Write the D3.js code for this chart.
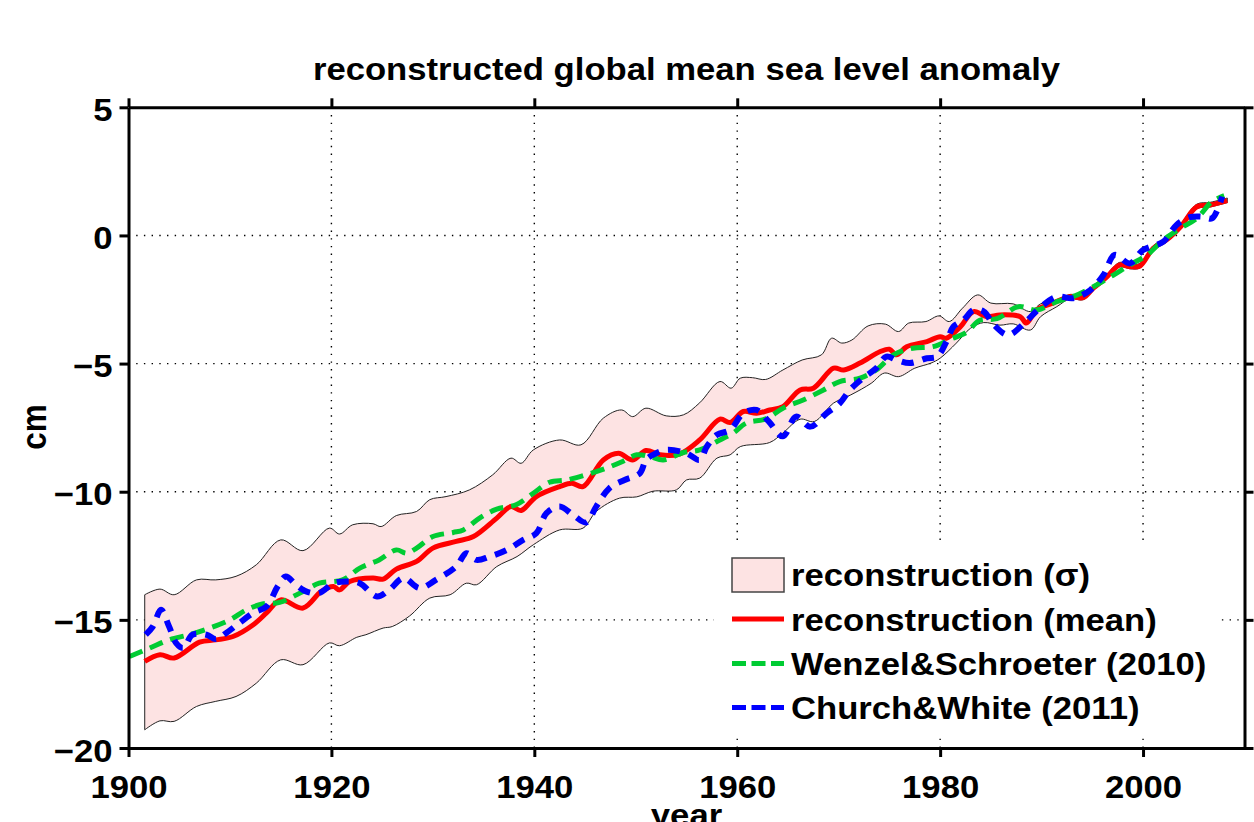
<!DOCTYPE html>
<html>
<head>
<meta charset="utf-8">
<script src="https://cdn.jsdelivr.net/npm/d3@7"></script>
<style>
  body { margin: 0; background: #fff; }
  text { font-family: "Liberation Sans", Arial, Helvetica, sans-serif; font-weight: bold; }
</style>
</head>
<body>
<script>
// reconstruction mean (red)
var meanYear = [1901.6,1903.1,1904.5,1907.0,1908.6,1910.3,1912.3,1913.6,1915.0,1917.2,1919.0,1920.2,1920.8,1921.8,1924.1,1925.1,1926.4,1928.4,1930.0,1932.3,1934.0,1936.3,1937.7,1938.7,1940.2,1942.5,1943.7,1944.8,1946.8,1948.3,1949.7,1951.0,1952.4,1954.3,1956.3,1958.3,1959.3,1960.6,1961.9,1963.2,1964.5,1966.2,1967.5,1969.5,1970.5,1972.1,1974.1,1975.0,1975.7,1976.7,1978.7,1980.0,1980.6,1982.0,1983.3,1984.6,1985.9,1987.9,1988.5,1989.5,1991.1,1992.8,1994.1,1995.1,1996.3,1997.7,1998.7,1999.7,2001.0,2002.3,2003.7,2005.3,2006.6,2008.3];
var meanVal = [-16.62,-16.36,-16.49,-15.87,-15.78,-15.65,-15.19,-14.73,-14.22,-14.54,-13.89,-13.70,-13.83,-13.50,-13.37,-13.41,-13.02,-12.72,-12.20,-11.94,-11.75,-11.03,-10.58,-10.73,-10.19,-9.80,-9.67,-9.80,-8.76,-8.50,-8.76,-8.39,-8.56,-8.53,-7.98,-7.17,-7.30,-6.87,-6.94,-6.81,-6.68,-6.03,-5.96,-5.18,-5.25,-4.98,-4.53,-4.44,-4.66,-4.34,-4.14,-3.95,-4.01,-3.56,-2.97,-3.17,-3.10,-3.17,-3.42,-2.91,-2.64,-2.39,-2.43,-2.06,-1.67,-1.15,-1.22,-1.19,-0.50,-0.18,0.34,1.12,1.19,1.36];

// reconstruction sigma band
var upperYear = [1901.6,1903.1,1904.5,1906.7,1908.6,1910.6,1912.6,1915.0,1917.2,1919.8,1920.8,1922.1,1924.1,1924.9,1926.4,1928.4,1929.7,1931.3,1933.6,1935.9,1937.7,1938.7,1939.9,1942.5,1944.6,1946.8,1948.6,1949.7,1951.0,1953.0,1954.7,1956.3,1958.3,1959.4,1960.3,1961.5,1962.8,1964.5,1966.4,1968.3,1969.3,1970.3,1971.3,1972.9,1974.6,1975.9,1976.9,1978.6,1979.9,1980.9,1982.2,1983.7,1985.0,1987.2,1988.9,1989.9,1991.5,1992.8,1994.1,1995.1,1996.3,1997.7,1998.7,1999.7,2001.0,2002.3,2003.7,2005.3,2006.6,2008.3];
var upperVal = [-14.02,-13.80,-14.02,-13.44,-13.44,-13.30,-12.85,-11.88,-12.30,-11.42,-11.65,-11.29,-11.25,-11.36,-10.93,-10.77,-10.31,-10.19,-9.93,-9.34,-8.69,-8.89,-8.37,-7.98,-8.17,-7.13,-6.81,-7.07,-6.74,-7.04,-7.00,-6.53,-5.70,-5.96,-5.57,-5.55,-5.62,-5.25,-4.86,-4.66,-4.01,-4.20,-4.08,-3.53,-3.46,-3.75,-3.42,-3.36,-3.14,-3.36,-2.84,-2.32,-2.64,-2.67,-2.97,-2.67,-2.52,-2.30,-2.33,-1.96,-1.57,-1.05,-1.12,-1.09,-0.40,-0.08,0.44,1.22,1.29,1.46];
var lowerYear = [1901.6,1903.1,1904.5,1906.7,1908.6,1910.6,1912.6,1915.0,1917.2,1919.8,1920.8,1922.5,1923.4,1925.1,1926.0,1927.7,1929.7,1931.7,1933.3,1934.3,1936.3,1938.3,1939.9,1942.5,1944.8,1946.1,1948.4,1950.1,1951.7,1954.0,1955.0,1956.3,1958.0,1959.3,1960.3,1963.2,1964.5,1966.2,1967.6,1969.5,1971.2,1973.2,1974.5,1975.9,1977.5,1979.1,1980.0,1981.6,1983.0,1984.3,1985.9,1987.2,1988.9,1989.9,1991.5,1992.8,1994.1,1995.1,1996.3,1997.7,1998.7,1999.7,2001.0,2002.3,2003.7,2005.3,2006.6,2008.3];
var lowerVal = [-19.29,-18.94,-18.96,-18.38,-18.18,-17.99,-17.47,-16.56,-16.75,-15.90,-16.01,-15.68,-15.58,-15.32,-15.26,-14.85,-14.15,-14.02,-13.57,-13.63,-12.92,-12.53,-12.07,-11.49,-11.42,-10.77,-10.25,-10.20,-9.98,-9.93,-9.54,-9.47,-8.69,-8.56,-8.24,-8.08,-7.71,-7.17,-7.26,-6.54,-6.22,-5.77,-5.37,-5.51,-5.18,-4.98,-4.79,-4.20,-3.62,-3.40,-3.50,-3.45,-3.69,-3.17,-2.78,-2.47,-2.51,-2.14,-1.75,-1.23,-1.30,-1.27,-0.58,-0.26,0.26,1.04,1.11,1.28];

// Wenzel & Schroeter (2010)
var wsYear = [1900.1,1902.1,1904.0,1906.0,1908.0,1910.0,1911.6,1913.2,1914.9,1917.2,1918.8,1921.1,1922.8,1924.7,1926.4,1927.4,1928.4,1930.0,1932.0,1933.0,1934.6,1936.3,1938.2,1939.9,1941.5,1943.2,1945.1,1947.1,1948.7,1950.1,1951.4,1952.7,1954.7,1956.3,1958.0,1959.6,1960.9,1962.9,1964.5,1966.5,1968.5,1970.1,1972.1,1973.7,1975.4,1977.3,1979.3,1981.0,1982.6,1983.9,1985.6,1987.7,1989.5,1991.5,1993.1,1995.1,1996.8,1998.7,2000.4,2002.0,2003.7,2005.3,2006.8,2008.0];
var wsVal = [-16.43,-16.10,-15.78,-15.58,-15.32,-15.00,-14.61,-14.38,-14.32,-13.89,-13.57,-13.44,-12.98,-12.66,-12.27,-12.40,-12.20,-11.75,-11.59,-11.49,-11.03,-10.68,-10.51,-10.06,-9.63,-9.54,-9.34,-9.08,-8.82,-8.56,-8.63,-8.76,-8.47,-8.37,-8.04,-7.71,-7.32,-7.15,-6.74,-6.42,-6.03,-5.70,-5.57,-5.25,-4.66,-4.40,-4.34,-4.05,-3.78,-3.31,-3.25,-2.78,-2.91,-2.58,-2.39,-2.00,-1.61,-1.15,-0.76,-0.18,0.28,0.67,1.32,1.55];

// Church & White (2011)
var cwYear = [1901.7,1902.4,1903.2,1904.0,1904.7,1905.4,1906.3,1907.7,1908.6,1909.6,1910.9,1912.3,1913.6,1914.7,1915.5,1916.5,1917.5,1918.8,1920.2,1921.5,1922.8,1924.5,1925.7,1927.1,1928.7,1930.3,1932.3,1933.3,1934.3,1935.6,1937.3,1938.9,1940.2,1941.2,1942.5,1943.8,1945.1,1946.1,1947.4,1948.9,1950.4,1951.0,1951.7,1953.0,1955.0,1956.3,1957.0,1958.0,1959.3,1960.6,1961.9,1963.1,1964.5,1965.8,1967.2,1968.8,1970.1,1971.1,1972.4,1973.7,1974.7,1975.7,1977.0,1978.7,1979.7,1980.7,1981.3,1982.3,1983.3,1984.3,1985.3,1986.7,1988.3,1989.8,1991.5,1993.1,1994.8,1996.1,1997.2,1998.7,2000.0,2002.0,2003.3,2004.6,2005.9,2006.8,2007.8];
var cwVal = [-15.58,-15.26,-14.61,-15.26,-15.91,-16.10,-15.58,-15.58,-15.75,-15.52,-15.13,-14.73,-14.48,-13.70,-13.31,-13.63,-13.89,-13.95,-13.57,-13.50,-13.57,-14.09,-13.83,-13.37,-13.76,-13.44,-12.92,-12.40,-12.66,-12.53,-12.27,-11.88,-11.62,-10.84,-10.58,-10.90,-11.20,-10.58,-9.86,-9.54,-9.28,-8.76,-8.56,-8.37,-8.50,-8.76,-8.24,-7.78,-7.59,-6.94,-6.81,-7.26,-7.84,-7.07,-7.46,-6.94,-6.55,-6.03,-5.57,-5.18,-4.73,-4.86,-4.98,-4.79,-4.73,-4.08,-3.56,-3.30,-2.91,-2.97,-3.49,-3.88,-3.42,-2.84,-2.39,-2.45,-2.13,-1.54,-0.76,-1.09,-0.57,-0.24,0.41,0.71,0.73,0.67,1.51];

var xTicks = [1900, 1920, 1940, 1960, 1980, 2000];
var yTicks = [5, 0, -5, -10, -15, -20];
var xGrid = [1920, 1940, 1960, 1980, 2000];
var yGrid = [0, -5, -10, -15];
var legendLabels = ["reconstruction (\u03c3)", "reconstruction (mean)", "Wenzel&Schroeter (2010)", "Church&White (2011)"];

var W = 1254, H = 822;
var L = 128.5, R = 1244.5, T = 107.3, B = 748;
var SX = 1.1; // the picture's glyphs are a little wider than the font
var FS = 31.5;
var bandFill = "#fde3e3", red = "#ff0000", green = "#00cc33", blue = "#0000ff";

var svg = d3.select("body").append("svg").attr("width", W).attr("height", H);

var x = d3.scaleLinear().domain([1900, 2010]).range([L, R]);
var y = d3.scaleLinear().domain([-20, 5]).range([B, T]);

function pts(xs, vs) { return xs.map(function (d, i) { return [d, vs[i]]; }); }

svg.append("defs").append("clipPath").attr("id", "clip")
	.append("rect").attr("x", L).attr("y", T).attr("width", R - L).attr("height", B - T);

// grid
svg.append("g").selectAll("line").data(xGrid).enter().append("line")
	.attr("x1", function (d) { return x(d); }).attr("x2", function (d) { return x(d); })
	.attr("y1", T).attr("y2", B)
	.attr("stroke", "#000").attr("stroke-width", 1.4).attr("stroke-dasharray", "1.4,6.3");
svg.append("g").selectAll("line").data(yGrid).enter().append("line")
	.attr("y1", function (d) { return y(d); }).attr("y2", function (d) { return y(d); })
	.attr("x1", L).attr("x2", R)
	.attr("stroke", "#000").attr("stroke-width", 1.4).attr("stroke-dasharray", "1.4,6.3");

var line = d3.line()
	.x(function (d) { return x(d[0]); })
	.y(function (d) { return y(d[1]); })
	.curve(d3.curveCatmullRom.alpha(0.5));

var plot = svg.append("g").attr("clip-path", "url(#clip)");

// sigma band
var up = pts(upperYear, upperVal);
var lo = pts(lowerYear, lowerVal).reverse();
var bandPath = line(up) + "L" + line(lo).slice(1) + "Z";
plot.append("path").attr("d", bandPath)
	.attr("fill", bandFill).attr("stroke", "#222").attr("stroke-width", 1);

plot.append("path").attr("d", line(pts(meanYear, meanVal)))
	.attr("fill", "none").attr("stroke", red).attr("stroke-width", 5);
plot.append("path").attr("d", line(pts(wsYear, wsVal)))
	.attr("fill", "none").attr("stroke", green).attr("stroke-width", 5)
	.attr("stroke-dasharray", "14,8");
plot.append("path").attr("d", line(pts(cwYear, cwVal)))
	.attr("fill", "none").attr("stroke", blue).attr("stroke-width", 6)
	.attr("stroke-dasharray", "12,9");

// axes
function styleAxis(g) {
	g.selectAll("path.domain").attr("stroke", "#000").attr("stroke-width", 3);
	g.selectAll(".tick line").attr("stroke", "#000").attr("stroke-width", 3);
	g.selectAll("text").attr("fill", "#000").style("font-size", FS + "px");
}

var gL = svg.append("g").attr("transform", "translate(" + L + ",0)")
	.call(d3.axisLeft(y).tickValues(yTicks).tickSize(9).tickSizeOuter(0))
	.call(styleAxis);
gL.selectAll(".tick text").attr("x", -16 / SX).attr("dy", null).attr("y", 13)
	.attr("transform", "scale(" + SX + ",1)");

var gB = svg.append("g").attr("transform", "translate(0," + B + ")")
	.call(d3.axisBottom(x).tickValues(xTicks).tickFormat(d3.format("d")).tickSize(9).tickSizeOuter(0))
	.call(styleAxis);
gB.selectAll(".tick text").attr("y", 50).attr("dy", null)
	.attr("transform", "scale(" + SX + ",1)");

svg.append("g").attr("transform", "translate(0," + T + ")")
	.call(d3.axisTop(x).tickValues(xTicks).tickFormat("").tickSize(9).tickSizeOuter(0))
	.call(styleAxis);
svg.append("g").attr("transform", "translate(" + R + ",0)")
	.call(d3.axisRight(y).tickValues(yTicks).tickFormat("").tickSize(9).tickSizeOuter(0))
	.call(styleAxis);

// legend
var lg = svg.append("g");
lg.append("rect").attr("x", 714).attr("y", 545).attr("width", 506).attr("height", 193).attr("fill", "#fff");
var rowBase = [586, 630.5, 675, 719];
var sx0 = 732, sx1 = 784;
lg.append("rect").attr("x", sx0).attr("y", rowBase[0] - 28).attr("width", sx1 - sx0).attr("height", 34)
	.attr("fill", bandFill).attr("stroke", "#444").attr("stroke-width", 1.5);
var symStyle = [
	{ c: red, w: 5, dash: null },
	{ c: green, w: 5, dash: "14,5.5" },
	{ c: blue, w: 5, dash: "14,5.5" }
];
symStyle.forEach(function (s, i) {
	lg.append("line").attr("x1", sx0).attr("x2", sx1)
		.attr("y1", rowBase[i + 1] - 11.5).attr("y2", rowBase[i + 1] - 11.5)
		.attr("stroke", s.c).attr("stroke-width", s.w).attr("stroke-dasharray", s.dash);
});
legendLabels.forEach(function (t, i) {
	lg.append("text").attr("transform", "translate(791," + rowBase[i] + ") scale(" + SX + ",1)")
		.style("font-size", FS + "px").text(t);
});

// titles
svg.append("text").attr("transform", "translate(686.5,80) scale(" + SX + ",1)")
	.attr("text-anchor", "middle").style("font-size", FS + "px")
	.text("reconstructed global mean sea level anomaly");
svg.append("text").attr("transform", "translate(686.5,826) scale(" + SX + ",1)")
	.attr("text-anchor", "middle").style("font-size", FS + "px").text("year");
svg.append("text").attr("transform", "translate(46,427) scale(" + SX + ",1) rotate(-90)")
	.attr("text-anchor", "middle").style("font-size", FS + "px").text("cm");
</script>
</body>
</html>
